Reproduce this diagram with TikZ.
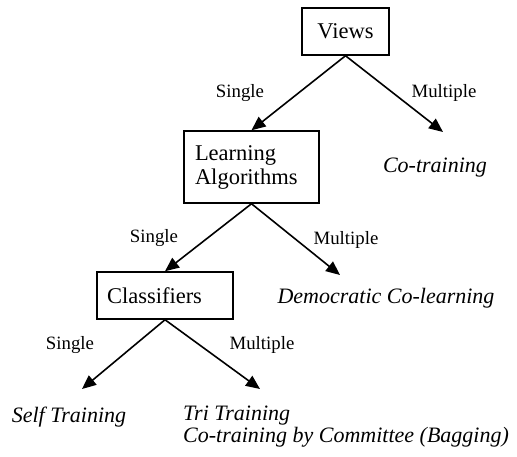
\documentclass[tikz,border=0pt]{standalone}
\usepackage{fontspec}
\setmainfont{Liberation Serif}
\usetikzlibrary{arrows.meta,positioning}
\tikzset{
    box/.style={draw, line width=1.5pt, inner sep=0pt, font=\fontsize{22.5}{24}\selectfont},
    leaf/.style={font=\fontsize{22}{22}\selectfont\itshape, inner sep=0pt},
    choice/.style={font=\fontsize{18.8}{20}\selectfont, inner sep=0pt},
    branch/.style={-{Triangle[length=14pt,width=12pt]}, line width=1.6pt},
  }
\begin{document}
\begin{tikzpicture}[x=1pt,y=1pt]
    \useasboundingbox (0,0) rectangle (517,456);

    \node[box, minimum width=87pt, minimum height=47pt] (views) at (345.5,424.5) {Views};

    \node[box, minimum width=135pt, minimum height=72pt, text width=113pt, align=left] (learn) at (251.5,289) {Learning\\Algorithms};
    \draw[branch] (views.south) -- (learn.north);
    \node[choice] (s1) at (240,363) {Single};

    \coordinate (cotrain-in) at (443,324);
    \node[leaf] (cotrain) at (435,288) {Co-training};
    \draw[branch] (views.south) -- (cotrain-in);
    \node[choice] (m1) at (444,363) {Multiple};

    \node[box, minimum width=136pt, minimum height=47pt, text width=116pt, align=left] (classif) at (165,160.5) {Classifiers};
    \draw[branch] (learn.south) -- (classif.north);
    \node[choice] (s2) at (154,218) {Single};

    \coordinate (democ-in) at (340,181);
    \node[leaf] (democ) at (386,158) {Democratic Co-learning};
    \draw[branch] (learn.south) -- (democ-in);
    \node[choice] (m2) at (346,216) {Multiple};

    \coordinate (self-in) at (82,67);
    \node[leaf] (self) at (69,39) {Self Training};
    \draw[branch] (classif.south) -- (self-in);
    \node[choice] (s3) at (70,111) {Single};

    \coordinate (tri-in) at (260,67);
    \node[leaf, anchor=west, align=left] (tri) at (183,29) {Tri Training\\Co-training by Committee (Bagging)};
    \draw[branch] (classif.south) -- (tri-in);
    \node[choice] (m3) at (262,111) {Multiple};
  \end{tikzpicture}
\end{document}
